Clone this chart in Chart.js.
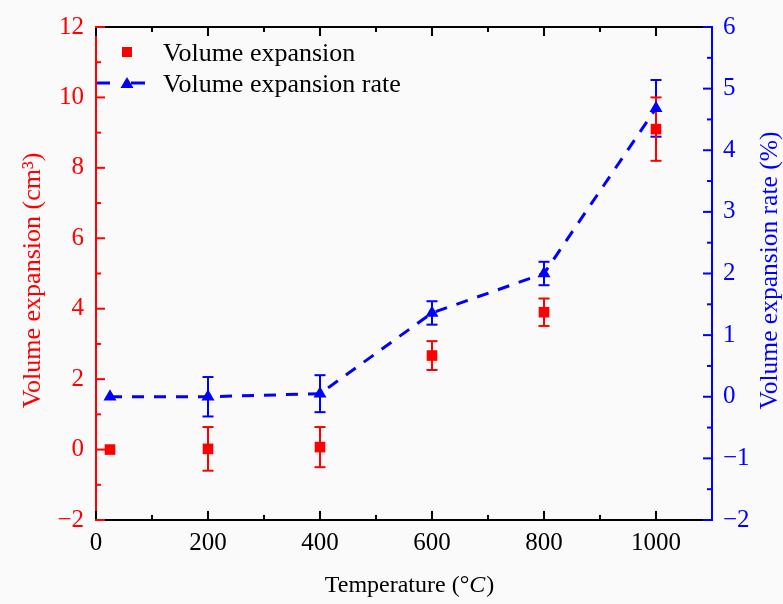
<!DOCTYPE html>
<html>
<head>
<meta charset="utf-8">
<script src="https://cdn.jsdelivr.net/npm/chart.js@4.4.0/dist/chart.umd.min.js"></script>
<style>
  html, body { margin: 0; padding: 0; background: #fafafa; }
  canvas { display: block; }
</style>
</head>
<body>
<canvas id="myChart" width="783" height="604"></canvas>
<script>
'use strict';
// data
const temps = [25, 200, 400, 600, 800, 1000];
const volExp = [0, 0.02, 0.07, 2.67, 3.9, 9.1];
const volExpErr = [0, 0.62, 0.57, 0.41, 0.39, 0.9];
const expRate = [0, 0, 0.05, 1.36, 2.0, 4.68];
const expRateErr = [0, 0.32, 0.3, 0.19, 0.19, 0.46];

const xTicks = [0, 200, 400, 600, 800, 1000];
const xMinor = [100, 300, 500, 700, 900, 1100];
const leftTicks = [-2, 0, 2, 4, 6, 8, 10, 12];
const leftMinor = [-1, 1, 3, 5, 7, 9, 11];
const rightTicks = [-2, -1, 0, 1, 2, 3, 4, 5, 6];
const rightMinor = [-1.5, -0.5, 0.5, 1.5, 2.5, 3.5, 4.5, 5.5];

const labelVol = 'Volume expansion';
const labelRate = 'Volume expansion rate';
const titleLeft = 'Volume expansion (cm\u00B3)';
const titleRight = 'Volume expansion rate (%)';

const RED = '#ff0000';
const BLUE = '#0000ff';
const SERIF = "'Liberation Serif', 'Times New Roman', serif";

Chart.defaults.font.family = SERIF;

function fmt(v) {
  return v < 0 ? '\u2212' + Math.abs(v) : String(v);
}

function line(ctx, x1, y1, x2, y2) {
  ctx.beginPath();
  ctx.moveTo(x1, y1);
  ctx.lineTo(x2, y2);
  ctx.stroke();
}

function errorBars(ctx, xs, ys, vals, errs, color) {
  ctx.strokeStyle = color;
  ctx.lineWidth = 2;
  for (let i = 0; i < vals.length; i++) {
    if (!errs[i]) continue;
    const px = xs.getPixelForValue(temps[i]);
    const top = ys.getPixelForValue(vals[i] + errs[i]);
    const bot = ys.getPixelForValue(vals[i] - errs[i]);
    line(ctx, px, top, px, bot);
    line(ctx, px - 5.5, top, px + 5.5, top);
    line(ctx, px - 5.5, bot, px + 5.5, bot);
  }
}

const errorPlugin = {
  id: 'errorPlugin',
  beforeDatasetsDraw(chart) {
    const ctx = chart.ctx;
    const s = chart.scales;
    ctx.save();
    errorBars(ctx, s.x, s.y1, expRate, expRateErr, BLUE);
    errorBars(ctx, s.x, s.y, volExp, volExpErr, RED);
    ctx.restore();
  }
};

const decorPlugin = {
  id: 'decorPlugin',
  beforeDraw(chart) {
    const ctx = chart.ctx;
    ctx.save();
    ctx.fillStyle = '#fafafa';
    ctx.fillRect(0, 0, chart.width, chart.height);
    ctx.restore();
  },
  afterDraw(chart) {
    const ctx = chart.ctx;
    const a = chart.chartArea;
    const s = chart.scales;
    ctx.save();
    ctx.lineWidth = 2;

    // top frame
    ctx.strokeStyle = '#000';
    line(ctx, a.left, a.top, a.right, a.top);

    // inward ticks, x (bottom and top)
    xTicks.forEach(v => {
      const p = s.x.getPixelForValue(v);
      line(ctx, p, a.bottom, p, a.bottom - 9);
      line(ctx, p, a.top, p, a.top + 9);
    });
    xMinor.forEach(v => {
      const p = s.x.getPixelForValue(v);
      if (p >= a.right - 1) return;
      line(ctx, p, a.bottom, p, a.bottom - 5);
      line(ctx, p, a.top, p, a.top + 5);
    });

    // left axis ticks
    ctx.strokeStyle = RED;
    leftTicks.forEach(v => {
      const p = s.y.getPixelForValue(v);
      line(ctx, a.left - 1, p, a.left + 9, p);
    });
    leftMinor.forEach(v => {
      const p = s.y.getPixelForValue(v);
      line(ctx, a.left, p, a.left + 5, p);
    });

    // right axis ticks
    ctx.strokeStyle = BLUE;
    rightTicks.forEach(v => {
      const p = s.y1.getPixelForValue(v);
      line(ctx, a.right + 1, p, a.right - 9, p);
    });
    rightMinor.forEach(v => {
      const p = s.y1.getPixelForValue(v);
      line(ctx, a.right, p, a.right - 5, p);
    });

    // axis titles
    const cy = (a.top + a.bottom) / 2;
    ctx.textAlign = 'center';
    ctx.textBaseline = 'middle';
    ctx.fillStyle = RED;
    ctx.font = '26px ' + SERIF;
    ctx.save();
    ctx.translate(a.left - 63, cy + 7);
    ctx.rotate(-Math.PI / 2);
    ctx.fillText(titleLeft, 0, 0);
    ctx.restore();
    ctx.fillStyle = BLUE;
    ctx.font = '25.5px ' + SERIF;
    ctx.save();
    ctx.translate(a.right + 58, cy - 3);
    ctx.rotate(-Math.PI / 2);
    ctx.fillText(titleRight, 0, 0);
    ctx.restore();

    // bottom title with italic C
    ctx.fillStyle = '#000';
    ctx.textAlign = 'left';
    ctx.textBaseline = 'alphabetic';
    const partA = 'Temperature (\u00B0';
    const partB = 'C';
    const partC = ')';
    const fN = '24px ' + SERIF;
    const fI = 'italic 24px ' + SERIF;
    ctx.font = fN;
    const wA = ctx.measureText(partA).width;
    const wC = ctx.measureText(partC).width;
    ctx.font = fI;
    const wB = ctx.measureText(partB).width;
    let tx = (a.left + a.right) / 2 + 5 - (wA + wB + wC) / 2;
    const ty = a.bottom + 72;
    ctx.font = fN;
    ctx.fillText(partA, tx, ty);
    ctx.font = fI;
    ctx.fillText(partB, tx + wA, ty);
    ctx.font = fN;
    ctx.fillText(partC, tx + wA + wB + 1, ty);

    // legend
    const lx = a.left + 31;
    ctx.fillStyle = RED;
    ctx.fillRect(lx - 5, a.top + 20, 10, 10);
    ctx.strokeStyle = BLUE;
    ctx.lineWidth = 3;
    line(ctx, a.left + 1, a.top + 56, a.left + 14, a.top + 56);
    line(ctx, lx + 4, a.top + 56, lx + 18, a.top + 56);
    ctx.fillStyle = BLUE;
    ctx.beginPath();
    ctx.moveTo(lx, a.top + 50);
    ctx.lineTo(lx + 6.5, a.top + 61);
    ctx.lineTo(lx - 6.5, a.top + 61);
    ctx.closePath();
    ctx.fill();
    ctx.fillStyle = '#000';
    ctx.font = '26px ' + SERIF;
    ctx.fillText(labelVol, lx + 36, a.top + 34);
    ctx.fillText(labelRate, lx + 36, a.top + 65);
    ctx.restore();
  }
};

const ctx = document.getElementById('myChart').getContext('2d');
const chart = new Chart(ctx, {
  type: 'line',
  data: {
    datasets: [{
      label: labelVol,
      data: temps.map((t, i) => ({ x: t, y: volExp[i] })),
      yAxisID: 'y',
      showLine: false,
      pointStyle: 'rect',
      pointRadius: 7.5,
      borderWidth: 0,
      pointBorderWidth: 0,
      backgroundColor: RED,
      borderColor: RED
    },
    {
      label: labelRate,
      data: temps.map((t, i) => ({ x: t, y: expRate[i] })),
      yAxisID: 'y1',
      pointStyle: 'triangle',
      pointRadius: 7.5,
      pointBorderWidth: 0,
      borderWidth: 3,
      borderDash: [12, 10],
      backgroundColor: BLUE,
      borderColor: BLUE,
      tension: 0
    }]
  },
  options: {
    responsive: false,
    animation: false,
    layout: { padding: { top: 23, left: 0, right: 0, bottom: 0 } },
    plugins: {
      legend: { display: false },
      tooltip: { enabled: false }
    },
    scales: {
      x: {
        type: 'linear',
        min: 0,
        max: 1100,
        afterBuildTicks: sc => { sc.ticks = xTicks.map(v => ({ value: v })); },
        afterFit: sc => { sc.height = 84; },
        grid: { display: false, drawTicks: false },
        border: { color: '#000', width: 2 },
        ticks: { color: '#000', font: { size: 25 }, padding: 8, maxRotation: 0, autoSkip: false, callback: fmt }
      },
      y: {
        position: 'left',
        min: -2,
        max: 12,
        afterBuildTicks: sc => { sc.ticks = leftTicks.map(v => ({ value: v })); },
        afterFit: sc => { sc.width = 96; },
        grid: { display: false, drawTicks: false },
        border: { color: RED, width: 2 },
        ticks: { color: RED, font: { size: 25 }, padding: 12, callback: fmt }
      },
      y1: {
        position: 'right',
        min: -2,
        max: 6,
        afterBuildTicks: sc => { sc.ticks = rightTicks.map(v => ({ value: v })); },
        afterFit: sc => { sc.width = 71; },
        grid: { display: false, drawTicks: false },
        border: { color: BLUE, width: 2 },
        ticks: { color: BLUE, font: { size: 25 }, padding: 11, callback: fmt }
      }
    }
  },
  plugins: [errorPlugin, decorPlugin]
});
</script>
</body>
</html>
